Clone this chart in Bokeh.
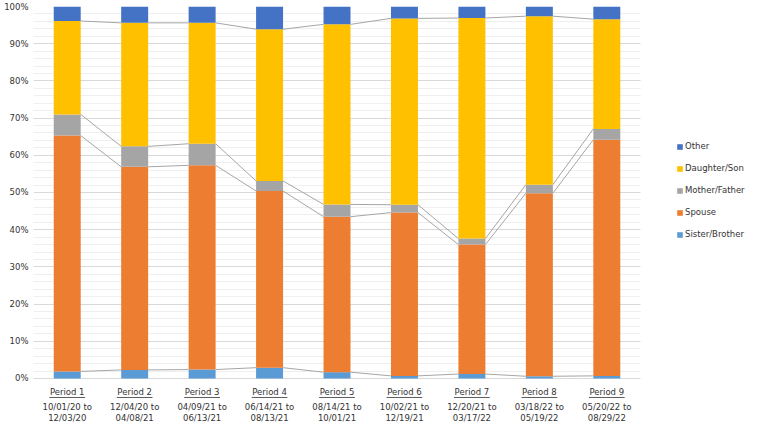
import numpy as np
from bokeh.plotting import figure
from bokeh.models import (ColumnDataSource, Range1d, FixedTicker, Legend, LegendItem,
                          PrintfTickFormatter, BoxAnnotation)
from bokeh.core.properties import value
from bokeh.embed import file_html
from bokeh.resources import INLINE

periods = ["Period 1", "Period 2", "Period 3", "Period 4", "Period 5",
           "Period 6", "Period 7", "Period 8", "Period 9"]
date_from = ["10/01/20", "12/04/20", "04/09/21", "06/14/21", "08/14/21",
             "10/02/21", "12/20/21", "03/18/22", "05/20/22"]
date_to = ["12/03/20", "04/08/21", "06/13/21", "08/13/21", "10/01/21",
           "12/19/21", "03/17/22", "05/19/22", "08/29/22"]

sister_brother = [1.9, 2.3, 2.4, 2.9, 1.7, 0.7, 1.2, 0.6, 0.7]
spouse = [63.4, 54.6, 54.9, 47.5, 41.8, 43.9, 34.8, 49.2, 63.5]
mother_father = [5.7, 5.5, 5.8, 2.7, 3.3, 2.1, 1.6, 2.3, 2.9]
daughter_son = [25.1, 33.2, 32.5, 40.8, 48.4, 50.1, 59.3, 45.3, 29.5]
other = [3.9, 4.4, 4.4, 6.1, 4.8, 3.2, 3.1, 2.6, 3.4]

series_names = ["Sister/Brother", "Spouse", "Mother/Father", "Daughter/Son", "Other"]
series_values = [sister_brother, spouse, mother_father, daughter_son, other]
colors = ["#5B9BD5", "#ED7D31", "#A5A5A5", "#FFC000", "#4472C4"]

y_major = list(range(0, 101, 10))
y_minor = list(range(0, 101, 2))

FONT = "DejaVu Sans"
FS = "8.5px"
TXT = "#333333"

n = len(periods)
xc = np.arange(n) + 0.5
bw = 0.4
x_extra = 1.66   # room on the right for the legend
y_low = -12.1    # room below 0% for the category labels
ppu = 3.72       # pixels per percent (approx.)

data = {"x": xc}
for name, vals in zip(series_names, series_values):
    data[name] = vals
src = ColumnDataSource(data)

p = figure(width=752, height=423, output_backend="svg", toolbar_location=None,
           x_range=Range1d(0, n + x_extra), y_range=Range1d(y_low, 100))
p.min_border_top = 6
p.min_border_bottom = 0
p.min_border_left = 33
p.min_border_right = 0
p.outline_line_color = None
p.background_fill_color = "white"

renderers = p.vbar_stack(series_names, x="x", width=bw, color=colors, source=src, line_width=0)

# series lines between stacks
cum = np.cumsum(np.array(series_values[:-1]), axis=0)
for level in cum:
    p.segment(x0=xc[:-1] + bw / 2, y0=level[:-1], x1=xc[1:] - bw / 2, y1=level[1:],
              line_color="#a6a6a6", line_width=1)

# category labels
lab_src = ColumnDataSource(dict(x=xc, period=periods,
                                d1=[d + " to" for d in date_from], d2=date_to))
py = -14 / ppu
for col, yy in (("period", py), ("d1", -29 / ppu), ("d2", -40 / ppu)):
    p.text(x="x", y=yy, text=col, source=lab_src, text_font=value(FONT),
           text_font_size=FS, text_color=TXT, text_align="center", text_baseline="middle")
uw = 0.265
p.segment(x0=xc - uw, y0=py - 5 / ppu, x1=xc + uw, y1=py - 5 / ppu, line_color=TXT, line_width=0.8)

p.xaxis.visible = False
yax = p.yaxis[0]
yax.ticker = FixedTicker(ticks=y_major, minor_ticks=y_minor)
yax.formatter = PrintfTickFormatter(format="%d%%")
yax.axis_line_color = None
yax.major_tick_line_color = None
yax.minor_tick_line_color = None
yax.major_tick_out = 0
yax.minor_tick_out = 0
yax.major_tick_in = 0
yax.minor_tick_in = 0
yax.major_label_text_font = FONT
yax.major_label_text_font_size = FS
yax.major_label_text_color = TXT
yax.major_label_standoff = 5

p.xgrid.visible = False
p.ygrid.ticker = FixedTicker(ticks=y_major, minor_ticks=y_minor)
p.ygrid.grid_line_color = "#d9d9d9"
p.ygrid.grid_line_width = 1
p.ygrid.minor_grid_line_color = "#efefef"
p.ygrid.minor_grid_line_width = 1

# mask the grid in the legend area
p.add_layout(BoxAnnotation(left=n, fill_color="white", fill_alpha=1, line_color=None))

items = [LegendItem(label=name, renderers=[r]) for name, r in zip(series_names, renderers)]
items = items[::-1]
legend = Legend(items=items, location=(643, 183))
legend.padding = 0
legend.margin = 0
legend.border_line_color = None
legend.background_fill_alpha = 0
legend.glyph_width = 7
legend.glyph_height = 7
legend.label_height = 12
legend.spacing = 10
legend.label_standoff = 2
legend.label_text_font = FONT
legend.label_text_font_size = FS
legend.label_text_color = TXT
p.add_layout(legend, "center")

open("out.html", "w").write(file_html(p, INLINE))
